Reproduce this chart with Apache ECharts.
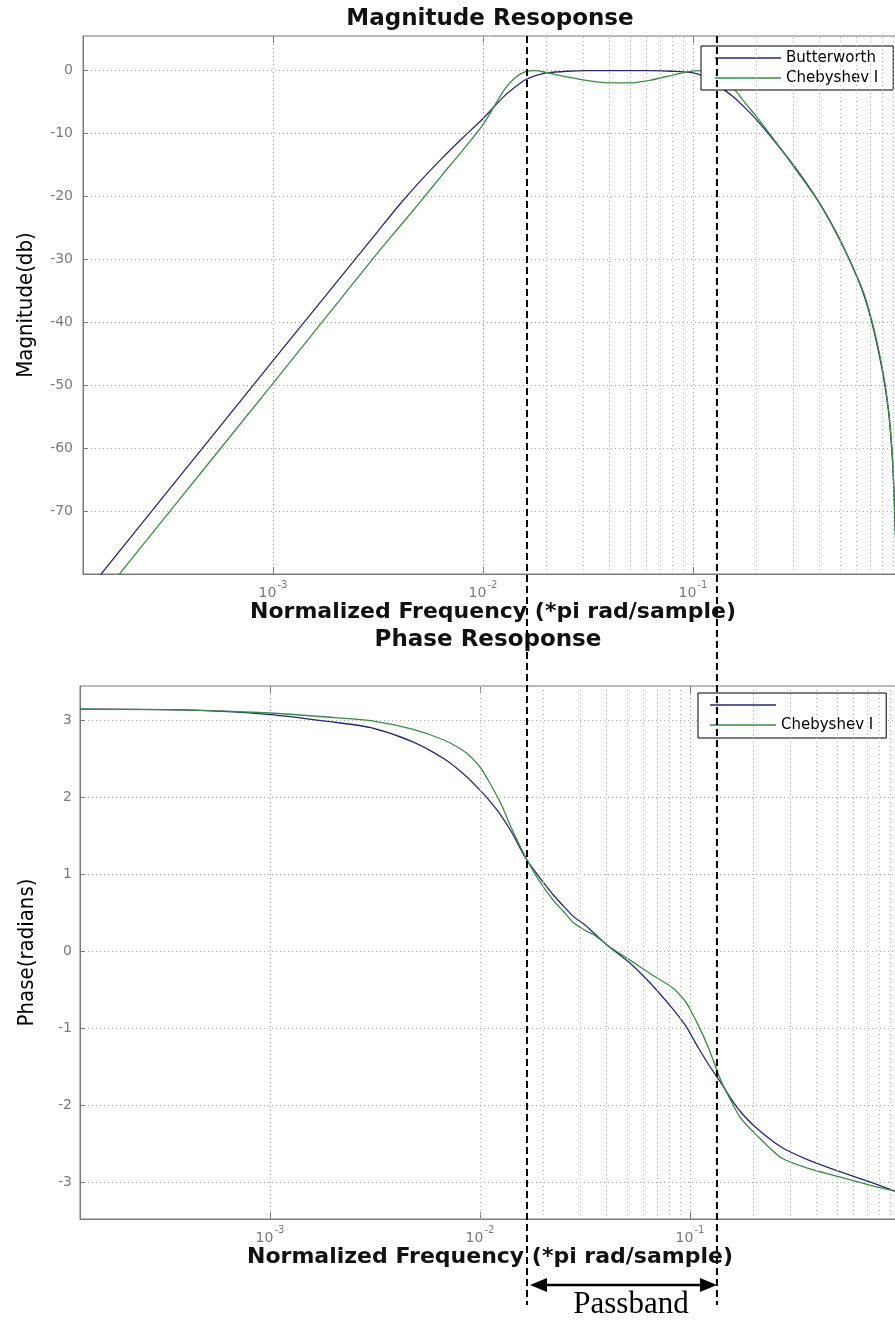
<!DOCTYPE html>
<html>
<head>
<meta charset="utf-8">
<title>Magnitude / Phase Resoponse</title>
<script src="https://cdn.jsdelivr.net/npm/echarts@6/dist/echarts.min.js"></script>
<style>
html, body { margin: 0; padding: 0; background: #fff; }
#chart { width: 895px; height: 1321px; }
</style>
</head>
<body>
<div id="chart"></div>
<script>
// normalized frequency (*pi rad/sample)
const magFreq = [1.23e-4, 3.162e-4, 1e-3, 3.162e-3, 3.981e-3, 5.012e-3, 6.31e-3, 7.943e-3, 0.01, 0.01259, 0.01413,
    0.01585, 0.01778, 0.01995, 0.02512, 0.03162, 0.03981, 0.05012, 0.0631, 0.07943, 0.1,
    0.1122, 0.1259, 0.1413, 0.1585, 0.1778, 0.1995, 0.2512, 0.3162, 0.3981, 0.5012,
    0.631, 0.7079, 0.7943, 0.8511, 0.8913, 0.912, 0.9333, 0.955]
const butterMag = [-83.8, -66.8, -46.1, -25.5, -21.4, -17.6, -14.1, -10.8, -7.6, -4.1, -2.7,
    -1.5, -0.8, -0.4, -0.1, 0, 0, 0, 0, -0.1, -0.35,
    -0.9, -2.0, -3.1, -4.4, -6.0, -7.7, -11.7, -16.0, -20.9, -26.9,
    -34.4, -39.8, -47.4, -53.9, -62, -70, -80, -95]
const chebyMag = [-87.4, -70.4, -49.7, -28.9, -24.9, -20.9, -16.8, -12.8, -8.6, -3.1, -1.2,
    -0.2, 0, -0.3, -1.0, -1.6, -1.95, -1.95, -1.5, -0.75, -0.05,
    0, -0.4, -1.5, -3.1, -5.2, -7.2, -11.6, -16.2, -21.0, -27.0,
    -34.2, -39.5, -47.0, -53.5, -61.5, -69.5, -80, -95]

const phaseFreq = [1.245e-4, 3.88e-4, 1e-3, 2.03e-3, 3.02e-3, 4.76e-3, 6.71e-3, 8.43e-3, 0.01, 0.0112,
    0.0126, 0.0141, 0.0165, 0.0187, 0.0222, 0.0249, 0.0279, 0.0313, 0.0351, 0.0404,
    0.0522, 0.0656, 0.0824, 0.0951, 0.1005, 0.1096, 0.1228, 0.1377, 0.1456, 0.1542,
    0.1729, 0.2051, 0.2729, 0.3624, 0.5102, 0.7183, 0.9441, 1]
const butterPhase = [3.14, 3.13, 3.07, 2.97, 2.90, 2.72, 2.50, 2.29, 2.09, 1.94,
    1.76, 1.55, 1.21, 1.00, 0.74, 0.59, 0.45, 0.35, 0.23, 0.08,
    -0.16, -0.43, -0.74, -0.96, -1.07, -1.25, -1.47, -1.67, -1.77, -1.88,
    -2.07, -2.28, -2.54, -2.70, -2.85, -2.99, -3.11, -3.14]
const chebyPhase = [3.14, 3.13, 3.09, 3.03, 2.99, 2.88, 2.74, 2.59, 2.39, 2.17,
    1.91, 1.60, 1.22, 0.96, 0.67, 0.52, 0.37, 0.28, 0.21, 0.08,
    -0.12, -0.30, -0.47, -0.65, -0.76, -0.96, -1.26, -1.62, -1.77, -1.90,
    -2.15, -2.37, -2.68, -2.81, -2.92, -3.03, -3.11, -3.14]

const seriesNames = ['Butterworth', 'Chebyshev I']
const colors = ['#28286e', '#3b8a46']
const passband = [0.0162, 0.130]
const minorSteps = [2, 3, 4, 5, 6, 7, 8, 9]
const decades = [1e-4, 1e-3, 1e-2, 1e-1]
const freqMin = 1.245e-4
const freqMax = 1

const gridColor = '#a8a8a8'
const axisColor = '#7a7a7a'
const narrowFont = "'Liberation Sans Narrow', 'DejaVu Sans Condensed', 'DejaVu Sans', sans-serif"
const titleStyle = { fontFamily: 'DejaVu Sans', fontWeight: 'bold', fontSize: 23, color: '#111' }

// minor log grid lines (2..9 in every decade)
let minorLines = []
decades.forEach(d => {
    minorSteps.forEach(k => {
        let v = k * d
        if (v > freqMin && v < freqMax) minorLines.push({ xAxis: v })
    })
})

function zip(xs, ys){
    return xs.map((x, i) => [x, ys[i]])
}

function xAxisFor(gridIndex, nameGap){
    return {
        type: 'log',
        logBase: 10,
        gridIndex: gridIndex,
        min: freqMin,
        max: freqMax,
        name: 'Normalized Frequency (*pi rad/sample)',
        nameLocation: 'middle',
        nameGap: nameGap,
        nameTextStyle: { fontFamily: 'DejaVu Sans', fontWeight: 'bold', fontSize: 22, color: '#111' },
        axisLine: { show: true, onZero: false, lineStyle: { color: axisColor, width: 1 } },
        axisTick: { show: true, inside: true, length: 7, lineStyle: { color: axisColor } },
        axisLabel: {
            margin: 6,
            showMinLabel: false,
            showMaxLabel: false,
            formatter: v => {
                let e = Math.log10(v)
                if (Math.abs(e - Math.round(e)) > 1e-6) return ''
                return '{b|10}{s|' + Math.round(e) + '}'
            },
            rich: {
                b: { fontSize: 14, color: axisColor, fontFamily: 'DejaVu Sans', lineHeight: 20, verticalAlign: 'bottom' },
                s: { fontSize: 10, color: axisColor, fontFamily: 'DejaVu Sans', lineHeight: 20, verticalAlign: 'top', padding: [0, 0, 0, 1] }
            }
        },
        splitLine: { show: true, lineStyle: { type: [1, 3], color: gridColor, width: 1 } },
    }
}

// top edge of the box only carries inward ticks
function topAxisFor(gridIndex){
    return {
        type: 'log',
        logBase: 10,
        gridIndex: gridIndex,
        position: 'top',
        min: freqMin,
        max: freqMax,
        axisLine: { show: false, onZero: false },
        axisTick: { show: true, inside: true, length: 7, lineStyle: { color: axisColor } },
        axisLabel: { show: false },
        splitLine: { show: false },
    }
}

function yAxisFor(gridIndex, opts){
    return Object.assign({
        type: 'value',
        gridIndex: gridIndex,
        nameLocation: 'middle',
        nameRotate: 90,
        nameTextStyle: { fontFamily: narrowFont, fontSize: 22, color: '#000' },
        axisLine: { show: true, onZero: false, lineStyle: { color: axisColor, width: 1 } },
        axisTick: { show: true, inside: true, length: 5, lineStyle: { color: axisColor } },
        splitLine: { show: true, lineStyle: { type: [1, 3], color: gridColor, width: 1 } },
    }, opts)
}

function curve(name, i, xIdx, data){
    return {
        name: name,
        type: 'line',
        xAxisIndex: xIdx,
        yAxisIndex: xIdx,
        data: data,
        symbol: 'none',
        smooth: 0.25,
        clip: true,
        z: 3,
        color: colors[i],
        lineStyle: { width: 1.3, color: colors[i] },
    }
}

function minorGrid(idx){
    return {
        type: 'line',
        xAxisIndex: idx,
        yAxisIndex: idx,
        data: [],
        z: 1,
        silent: true,
        markLine: {
            silent: true,
            symbol: ['none', 'none'],
            label: { show: false },
            animation: false,
            lineStyle: { type: [1, 3], color: '#bdbdbd', width: 1 },
            data: minorLines
        }
    }
}

const legendBase = {
    data: seriesNames,
    orient: 'vertical',
    selectedMode: false,
    icon: 'rect',
    itemWidth: 66,
    itemHeight: 1.5,
    itemGap: 2,
    borderColor: '#000',
    borderWidth: 1,
    borderRadius: 0,
    backgroundColor: '#fff',
    textStyle: { fontSize: 15, fontFamily: 'DejaVu Sans', color: '#000', lineHeight: 18 },
}

const chart = echarts.init(document.getElementById('chart'), null, { renderer: 'canvas' })

const option = {
    animation: false,
    backgroundColor: '#fff',
    title: [
        { text: 'Magnitude Resoponse', left: 490, top: 8, padding: 0, textAlign: 'center', textStyle: titleStyle },
        { text: 'Phase Resoponse', left: 488, top: 629, padding: 0, textAlign: 'center', textStyle: titleStyle },
    ],
    legend: [
        Object.assign({}, legendBase, { left: 701, top: 46, padding: [3, 15, 3, 14] }),
        Object.assign({}, legendBase, { left: 698, top: 693, padding: [3, 13, 4, 12],
            formatter: n => n === seriesNames[0] ? ' ' : n }),
    ],
    grid: [
        { left: 83, top: 36, width: 820, height: 538, outerBoundsMode: 'none', containLabel: false,
          show: true, borderColor: axisColor, borderWidth: 1, backgroundColor: '#fff' },
        { left: 80, top: 686, width: 820, height: 533, outerBoundsMode: 'none', containLabel: false,
          show: true, borderColor: axisColor, borderWidth: 1, backgroundColor: '#fff' },
    ],
    xAxis: [xAxisFor(0, 25), xAxisFor(1, 26), topAxisFor(0), topAxisFor(1)],
    yAxis: [
        yAxisFor(0, { min: -80, max: 5.5, interval: 10, name: 'Magnitude(db)', nameGap: 46,
            axisLabel: { showMinLabel: false, showMaxLabel: false, color: axisColor, fontSize: 14, fontFamily: 'DejaVu Sans', margin: 10 } }),
        yAxisFor(1, { min: -3.47, max: 3.44, splitNumber: 7, name: 'Phase(radians)', nameGap: 42,
            axisLabel: { showMinLabel: false, showMaxLabel: false, color: axisColor, fontSize: 14, fontFamily: 'DejaVu Sans', margin: 8 } }),
    ],
    series: [
        minorGrid(0),
        minorGrid(1),
        curve(seriesNames[0], 0, 0, zip(magFreq, butterMag)),
        curve(seriesNames[1], 1, 0, zip(magFreq, chebyMag)),
        curve(seriesNames[0], 0, 1, zip(phaseFreq, butterPhase)),
        curve(seriesNames[1], 1, 1, zip(phaseFreq, chebyPhase)),
    ]
}
chart.setOption(option)

// passband markers: dashed lines through both plots, arrow + label underneath
let xa = chart.convertToPixel({ xAxisIndex: 0 }, passband[0])
let xb = chart.convertToPixel({ xAxisIndex: 0 }, passband[1])
let yTop = chart.convertToPixel({ yAxisIndex: 0 }, 5.5)
let yEnd = 1305
let arrowY = 1285
let head = 17, half = 7
let dash = { stroke: '#000', lineWidth: 2, lineDash: [7, 4] }

chart.setOption({
    graphic: [
        { type: 'line', z: 100, shape: { x1: xa, y1: yTop, x2: xa, y2: yEnd }, style: dash },
        { type: 'line', z: 100, shape: { x1: xb, y1: yTop, x2: xb, y2: yEnd }, style: dash },
        { type: 'line', z: 100, shape: { x1: xa + 3 + head, y1: arrowY, x2: xb - head, y2: arrowY },
          style: { stroke: '#000', lineWidth: 2.5 } },
        { type: 'polygon', z: 100, shape: { points: [[xa + 3, arrowY], [xa + 3 + head, arrowY - half], [xa + 3 + head, arrowY + half]] },
          style: { fill: '#000' } },
        { type: 'polygon', z: 100, shape: { points: [[xb, arrowY], [xb - head, arrowY - half], [xb - head, arrowY + half]] },
          style: { fill: '#000' } },
        { type: 'text', z: 100, x: (xa + xb) / 2 + 9, y: 1305,
          style: { text: 'Passband', fontFamily: "'Liberation Serif', 'Times New Roman', serif", fontSize: 31,
                   fill: '#000', align: 'center', verticalAlign: 'middle' } },
    ]
})
</script>
</body>
</html>
